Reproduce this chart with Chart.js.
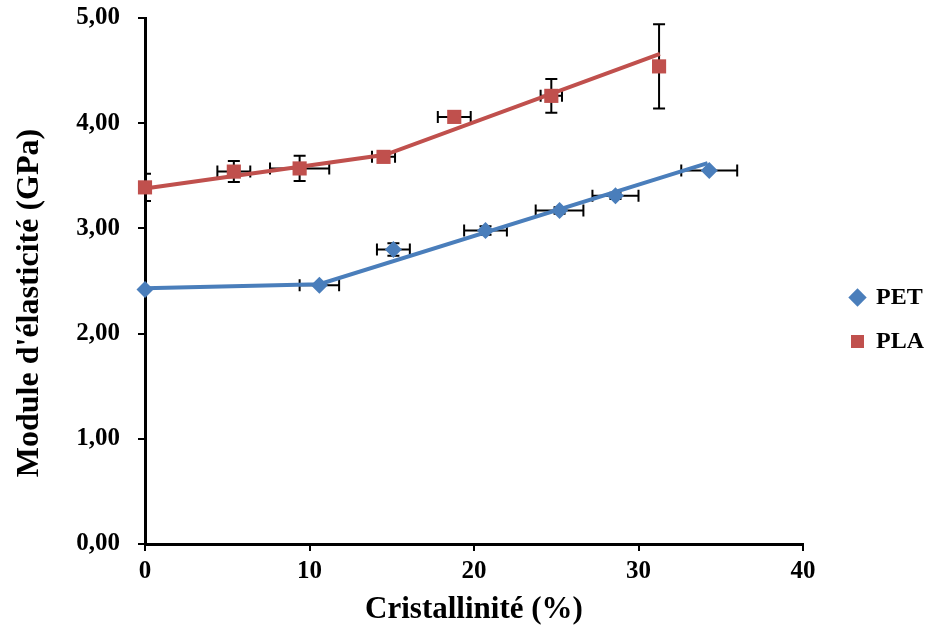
<!DOCTYPE html>
<html>
<head>
<meta charset="utf-8">
<script src="https://cdn.jsdelivr.net/npm/chart.js@4/dist/chart.umd.min.js"></script>
<style>
    html, body { margin: 0; padding: 0; background: #fff; }
    #wrap { width: 931px; height: 637px; }
</style>
</head>
<body>
<div id="wrap"><canvas id="modulusChart"></canvas></div>
<script>
// measured points (crystallinity %, modulus GPa) with error bars
const petX = [0, 10.6, 15.1, 20.7, 25.2, 28.6, 34.3];
const petY = [2.42, 2.46, 2.80, 2.98, 3.17, 3.31, 3.55];
const petXErr = [0, 1.2, 1.0, 1.3, 1.45, 1.4, 1.7];
const petYErr = [0, 0, 0.06, 0.04, 0.03, 0.03, 0];

const plaX = [0, 5.4, 9.4, 14.5, 18.8, 24.7, 31.25];
const plaY = [3.39, 3.54, 3.57, 3.68, 4.06, 4.26, 4.54];
const plaXErr = [0, 1.0, 1.8, 0.7, 1.0, 0.65, 0.3];
const plaYErr = [0.13, 0.10, 0.12, 0.03, 0, 0.16, 0.40];

// trend lines
const petFitX = [0, 10.6, 34.2];
const petFitY = [2.43, 2.47, 3.62];
const plaFitX = [0, 14.6, 31.3];
const plaFitY = [3.38, 3.70, 4.66];

const xTicks = [0, 10, 20, 30, 40];
const yTicks = [0, 1, 2, 3, 4, 5];

const yTitle = "Module d'élasticité (GPa)";

const blue = '#4A7EBB';
const red = '#C0504D';
const fontFamily = '"Liberation Serif", "Times New Roman", serif';

function toPoints(xs, ys) {
    return xs.map((x, i) => ({ x: x, y: ys[i] }));
}

const errorBars = {
    id: 'errorBars',
    beforeDatasetsDraw(chart) {
        const ctx = chart.ctx;
        const xs = chart.scales.x;
        const ys = chart.scales.y;
        const area = chart.chartArea;
        const cap = 6;
        ctx.save();
        ctx.beginPath();
        ctx.rect(area.left, area.top, area.right - area.left, area.bottom - area.top);
        ctx.clip();
        ctx.strokeStyle = '#000';
        ctx.lineWidth = 2;
        chart.data.datasets.forEach(ds => {
            if (!ds.errX) return;
            ds.data.forEach((p, i) => {
                const px = xs.getPixelForValue(p.x);
                const py = ys.getPixelForValue(p.y);
                const ex = ds.errX[i];
                const ey = ds.errY[i];
                ctx.beginPath();
                if (ex > 0) {
                    const x1 = xs.getPixelForValue(p.x - ex);
                    const x2 = xs.getPixelForValue(p.x + ex);
                    ctx.moveTo(x1, py); ctx.lineTo(x2, py);
                    ctx.moveTo(x1, py - cap); ctx.lineTo(x1, py + cap);
                    ctx.moveTo(x2, py - cap); ctx.lineTo(x2, py + cap);
                }
                if (ey > 0) {
                    const y1 = ys.getPixelForValue(p.y - ey);
                    const y2 = ys.getPixelForValue(p.y + ey);
                    ctx.moveTo(px, y1); ctx.lineTo(px, y2);
                    ctx.moveTo(px - cap, y1); ctx.lineTo(px + cap, y1);
                    ctx.moveTo(px - cap, y2); ctx.lineTo(px + cap, y2);
                }
                ctx.stroke();
            });
        });
        ctx.restore();
    }
};

// y title sits a bit below the middle of the axis in the original
const yTitleDraw = {
    id: 'yTitleDraw',
    afterDraw(chart) {
        const ctx = chart.ctx;
        const area = chart.chartArea;
        ctx.save();
        ctx.translate(30, (area.top + area.bottom) / 2 + 22);
        ctx.rotate(-Math.PI / 2);
        ctx.textAlign = 'center';
        ctx.textBaseline = 'middle';
        ctx.fillStyle = '#000';
        ctx.font = 'bold 32px ' + fontFamily;
        ctx.fillText(yTitle, 0, 0);
        ctx.restore();
    }
};

// nudge the legend block to where the original sits
const legendPlace = {
    id: 'legendPlace',
    afterLayout(chart) {
        const lg = chart.legend;
        const w = lg.width;
        const h = lg.height;
        lg.left = chart.chartArea.right + 28;
        lg.right = lg.left + w;
        lg.top = lg.top - 8;
        lg.bottom = lg.top + h;
    }
};

new Chart(document.getElementById('modulusChart'), {
    type: 'scatter',
    data: {
        datasets: [
            {
                label: 'PET fit',
                data: toPoints(petFitX, petFitY),
                showLine: true,
                borderColor: blue,
                borderWidth: 4,
                pointRadius: 0,
                clip: false,
                order: 2
            },
            {
                label: 'PLA fit',
                data: toPoints(plaFitX, plaFitY),
                showLine: true,
                borderColor: red,
                borderWidth: 4,
                pointRadius: 0,
                clip: false,
                order: 2
            },
            {
                label: 'PET',
                data: toPoints(petX, petY),
                errX: petXErr,
                errY: petYErr,
                pointStyle: 'rectRot',
                pointRadius: 8.5,
                backgroundColor: blue,
                borderColor: blue,
                borderWidth: 0,
                clip: false,
                order: 1
            },
            {
                label: 'PLA',
                data: toPoints(plaX, plaY),
                errX: plaXErr,
                errY: plaYErr,
                pointStyle: 'rect',
                pointRadius: 10,
                backgroundColor: red,
                borderColor: red,
                borderWidth: 0,
                clip: false,
                order: 1
            }
        ]
    },
    options: {
        responsive: true,
        maintainAspectRatio: false,
        animation: false,
        layout: {
            padding: { left: 0, right: 25, top: 18, bottom: 0 }
        },
        scales: {
            x: {
                type: 'linear',
                min: 0,
                max: 40,
                afterBuildTicks: axis => { axis.ticks = xTicks.map(v => ({ value: v })); },
                afterFit: axis => {
                    axis.height = 93;
                    axis.paddingLeft = 0;
                    axis.paddingRight = 0;
                },
                border: { color: '#000', width: 3 },
                grid: { drawOnChartArea: false, drawTicks: true, tickLength: 7, color: '#000', lineWidth: 2 },
                ticks: {
                    color: '#000',
                    padding: 6,
                    font: { family: fontFamily, size: 25, weight: 'bold' }
                },
                title: {
                    display: true,
                    text: 'Cristallinité (%)',
                    color: '#000',
                    padding: { top: 4, bottom: 8 },
                    font: { family: fontFamily, size: 31, weight: 'bold' }
                }
            },
            y: {
                type: 'linear',
                min: 0,
                max: 5,
                afterBuildTicks: axis => { axis.ticks = yTicks.map(v => ({ value: v })); },
                afterFit: axis => {
                    axis.width = 145;
                    axis.paddingTop = 0;
                    axis.paddingBottom = 0;
                },
                border: { color: '#000', width: 3 },
                grid: { drawOnChartArea: false, drawTicks: true, tickLength: 7, color: '#000', lineWidth: 2 },
                ticks: {
                    color: '#000',
                    padding: 18,
                    callback: v => v.toFixed(2).replace('.', ','),
                    font: { family: fontFamily, size: 25, weight: 'bold' }
                },
                title: { display: false }
            }
        },
        plugins: {
            legend: {
                position: 'right',
                labels: {
                    filter: item => item.text === 'PET' || item.text === 'PLA',
                    usePointStyle: true,
                    boxWidth: 13,
                    boxHeight: 13,
                    padding: 20,
                    color: '#000',
                    font: { family: fontFamily, size: 24, weight: 'bold' }
                }
            },
            tooltip: { enabled: false }
        }
    },
    plugins: [errorBars, yTitleDraw, legendPlace]
});
</script>
</body>
</html>
